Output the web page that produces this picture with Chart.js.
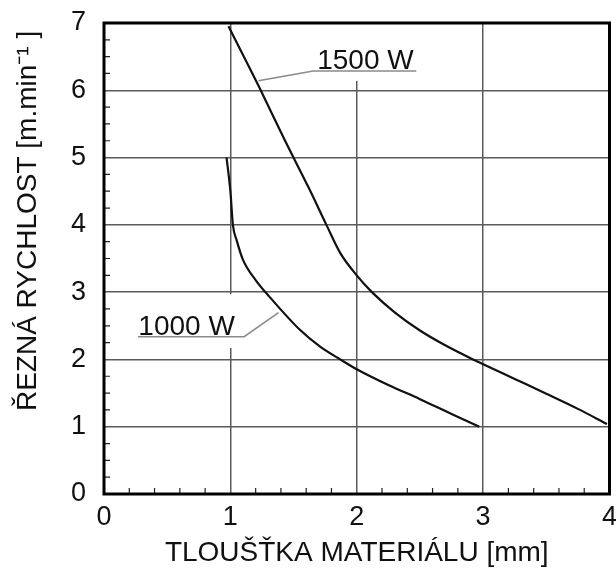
<!DOCTYPE html>
<html>
<head>
<meta charset="utf-8">
<script src="https://cdn.jsdelivr.net/npm/chart.js@4.4.1/dist/chart.umd.min.js"></script>
<style>
  html, body { margin: 0; padding: 0; background: #fff; }
  #wrap { width: 616px; height: 568px; }
</style>
</head>
<body>
<div id="wrap"><canvas id="rychlost"></canvas></div>
<script>
// tloušťka materiálu [mm] -> řezná rychlost [m/min]
const tloustka1500 = [0.985, 1.24, 1.43, 1.62, 1.76, 1.87, 2.0, 2.12, 2.3, 2.5, 2.7, 2.92, 3.0, 3.25, 3.5, 3.75, 3.98];
const rychlost1500 = [6.95, 6.0, 5.26, 4.55, 4.0, 3.58, 3.25, 3.0, 2.7, 2.43, 2.21, 2.0, 1.93, 1.71, 1.49, 1.265, 1.04];
const tloustka1000 = [0.97, 1.0, 1.02, 1.05, 1.1, 1.2, 1.31, 1.55, 1.71, 1.87, 2.0, 2.25, 2.5, 2.75, 2.97];
const rychlost1000 = [5.0, 4.5, 4.0, 3.77, 3.48, 3.18, 2.93, 2.44, 2.19, 2.0, 1.855, 1.62, 1.41, 1.19, 1.0];

const xTicks = [0, 1, 2, 3, 4];
const yTicks = [0, 1, 2, 3, 4, 5, 6, 7];

const FONT = '"Liberation Sans", Arial, sans-serif';

// popisky křivek (souřadnice v jednotkách grafu)
const popisky = [
  { text: '1500 W', tx: 1.687, ty: 6.316, line: [[1.222, 6.142], [1.655, 6.286], [2.471, 6.286]], box: [1.64, 2.49, 6.14, 7] },
  { text: '1000 W', tx: 0.272, ty: 2.363, line: [[1.381, 2.694], [1.109, 2.338], [0.268, 2.338]], box: [0.25, 1.12, 2.17, 2.97] }
];

const ramecek = {
  id: 'ramecek',
  beforeDatasetsDraw(chart) {
    const {ctx, scales: {x, y}} = chart;
    ctx.save();
    ctx.fillStyle = '#fff';
    popisky.forEach(p => {
      const l = x.getPixelForValue(p.box[0]), r = x.getPixelForValue(p.box[1]);
      const t = y.getPixelForValue(p.box[3]), b = y.getPixelForValue(p.box[2]);
      ctx.fillRect(l, t, r - l, b - t);
    });
    ctx.restore();
  },
  afterDatasetsDraw(chart) {
    const {ctx, chartArea: a, scales: {x, y}} = chart;
    ctx.save();
    // vodicí čáry + popisky
    ctx.strokeStyle = '#8a8a8a';
    ctx.lineWidth = 1.5;
    popisky.forEach(p => {
      ctx.beginPath();
      p.line.forEach((pt, i) => {
        const px = x.getPixelForValue(pt[0]), py = y.getPixelForValue(pt[1]);
        if (i === 0) ctx.moveTo(px, py); else ctx.lineTo(px, py);
      });
      ctx.stroke();
      ctx.fillStyle = '#111';
      ctx.font = '28px ' + FONT;
      ctx.textBaseline = 'alphabetic';
      ctx.textAlign = 'left';
      ctx.fillText(p.text, x.getPixelForValue(p.tx), y.getPixelForValue(p.ty));
    });
    // vedlejší značky dovnitř
    ctx.strokeStyle = '#222';
    ctx.lineWidth = 1.2;
    ctx.beginPath();
    for (let i = 1; i < 20; i++) {
      if (i % 5 === 0) continue;
      const px = x.getPixelForValue(i * 0.2);
      ctx.moveTo(px, a.bottom); ctx.lineTo(px, a.bottom - 6);
    }
    for (let i = 1; i < 28; i++) {
      if (i % 4 === 0) continue;
      const py = y.getPixelForValue(i * 0.25);
      ctx.moveTo(a.left, py); ctx.lineTo(a.left + 6, py);
    }
    ctx.stroke();
    // rámeček
    ctx.strokeStyle = '#000';
    ctx.lineWidth = 3;
    ctx.strokeRect(a.left, a.top, a.right - a.left, a.bottom - a.top);
    ctx.restore();
  }
};

const innerGrid = (ctx) => (ctx.tick && (ctx.index === 0 || ctx.index === ctx.chart.scales[ctx.scale.id].ticks.length - 1)) ? 'rgba(0,0,0,0)' : '#5a5a5a';

new Chart(document.getElementById('rychlost'), {
  type: 'line',
  data: {
    datasets: [
      {
        label: '1500 W',
        data: tloustka1500.map((t, i) => ({ x: t, y: rychlost1500[i] })),
        borderColor: '#111',
        borderWidth: 2.2,
        pointRadius: 0,
        cubicInterpolationMode: 'monotone'
      },
      {
        label: '1000 W',
        data: tloustka1000.map((t, i) => ({ x: t, y: rychlost1000[i] })),
        borderColor: '#111',
        borderWidth: 2.2,
        pointRadius: 0,
        cubicInterpolationMode: 'monotone'
      }
    ]
  },
  options: {
    responsive: true,
    maintainAspectRatio: false,
    animation: false,
    layout: { padding: { top: 23, right: 6.5, left: 0, bottom: 0 } },
    plugins: {
      legend: { display: false },
      tooltip: { enabled: false }
    },
    scales: {
      x: {
        type: 'linear',
        min: 0,
        max: 4,
        afterBuildTicks: (s) => { s.ticks = xTicks.map(v => ({ value: v })); },
        afterFit: (s) => { s.height = 74; s.paddingLeft = 0; s.paddingRight = 0; },
        border: { display: false },
        grid: { color: innerGrid, lineWidth: 1.5, drawTicks: false },
        ticks: { color: '#111', padding: 7, font: { family: FONT, size: 27 }, maxRotation: 0 },
        title: {
          display: true,
          text: 'TLOUŠŤKA MATERIÁLU [mm]',
          color: '#111',
          font: { family: FONT, size: 28, lineHeight: 1 },
          padding: { top: 0, bottom: 1 }
        }
      },
      y: {
        type: 'linear',
        min: 0,
        max: 7,
        afterBuildTicks: (s) => { s.ticks = yTicks.map(v => ({ value: v })); },
        afterFit: (s) => { s.width = 104; s.paddingTop = 0; s.paddingBottom = 0; },
        border: { display: false },
        grid: { color: innerGrid, lineWidth: 1.5, drawTicks: false },
        ticks: { color: '#111', padding: 18, font: { family: FONT, size: 27 } },
        title: {
          display: true,
          text: 'ŘEZNÁ RYCHLOST [m.min⁻¹ ] ',
          align: 'end',
          color: '#111',
          font: { family: FONT, size: 28, lineHeight: 1 },
          padding: { top: 14, bottom: 0 }
        }
      }
    }
  },
  plugins: [ramecek]
});
</script>
</body>
</html>
